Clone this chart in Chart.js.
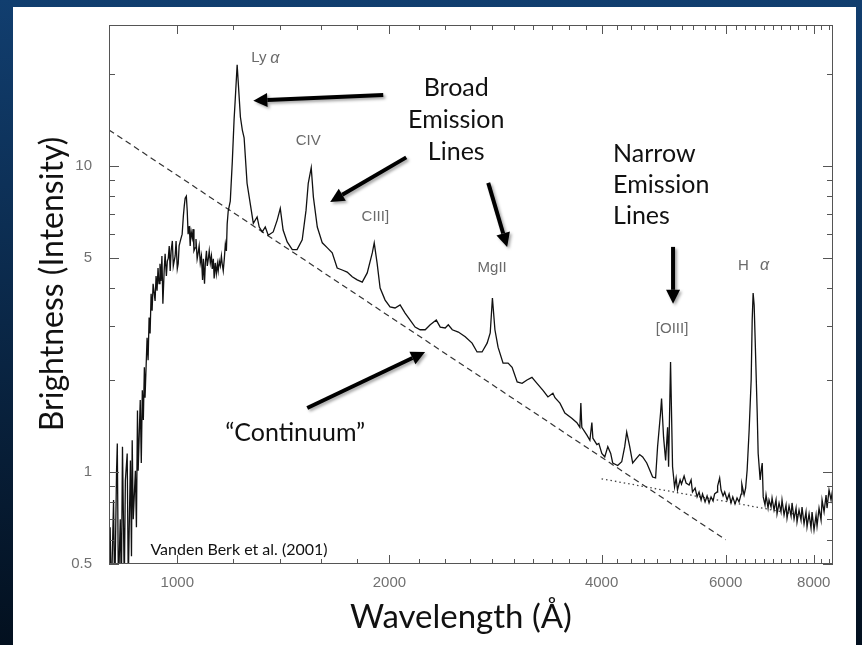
<!DOCTYPE html>
<html>
<head>
<meta charset="utf-8">
<script src="https://cdn.jsdelivr.net/npm/chart.js@4.4.1/dist/chart.umd.min.js"></script>
<style>
  html, body { margin: 0; padding: 0; background: #0b2a4d; }
  #wrap { width: 862px; height: 645px; }
</style>
</head>
<body>
<div id="wrap"><canvas id="spectrumChart" width="862" height="645"></canvas></div>
<script>

// composite quasar spectrum (Vanden Berk et al. 2001)
// wavelength in Angstrom, flux in arbitrary units
const forestWave = [798, 801, 803, 806, 812, 815, 820, 822, 825, 830, 833, 836, 841, 844, 849, 852, 858, 861, 863, 866,
    872, 875, 878, 880, 886, 889, 892, 895, 898, 900, 906, 909, 912, 915, 918, 921, 924, 930, 933, 936,
    939, 942, 945, 948, 951, 954, 958, 961, 965, 968, 971, 974, 977, 980, 984, 987, 993, 996, 1000, 1003,
    1006, 1010, 1016, 1020, 1023, 1026, 1030, 1033, 1036, 1040, 1043, 1046, 1050, 1053, 1056, 1060, 1063, 1067, 1070, 1074,
    1078, 1082, 1086, 1089, 1093, 1096, 1100, 1103, 1107, 1110, 1114, 1118, 1121, 1125, 1128, 1132, 1136, 1140, 1143, 1147,
    1151, 1155, 1158, 1162, 1166, 1170, 1174, 1177, 1181, 1189, 1197, 1204, 1208];
const forestFlux = [0.60, 0.38, 0.66, 0.38, 0.81, 0.38, 1.01, 1.24, 0.41, 0.70, 0.41, 1.21, 0.43, 0.94, 1.15, 0.44, 1.09, 0.53, 1.27, 0.70,
    1.01, 0.66, 1.59, 1.01, 1.72, 1.07, 1.85, 1.48, 2.20, 1.75, 2.75, 2.32, 3.20, 2.84, 3.83, 3.37, 4.13, 3.63, 4.38, 3.92,
    4.65, 4.13, 4.80, 4.22, 5.09, 3.55, 4.55, 5.17, 4.38, 4.90, 5.01, 5.49, 4.55, 5.29, 5.70, 4.72, 5.09, 5.70, 4.62, 4.80,
    5.49, 5.70, 6.00, 6.87, 7.41, 7.87, 7.99, 7.14, 6.00, 6.38, 5.49, 6.14, 5.83, 6.23, 5.29, 5.41, 5.78, 4.98, 5.17, 5.49,
    4.83, 5.09, 4.25, 4.98, 4.13, 4.83, 5.29, 4.72, 5.01, 5.29, 4.83, 5.09, 4.62, 4.98, 4.30, 4.83, 4.45, 4.80, 4.55, 4.90,
    4.72, 5.09, 4.80, 4.55, 4.98, 5.57, 5.29, 6.47, 7.14, 7.69, 10.4, 14.3, 16.3];

const uvWave = [1216, 1229, 1237, 1244, 1256, 1269, 1282, 1298, 1307, 1320, 1333, 1346, 1368, 1386, 1400, 1413, 1432, 1456, 1479, 1504,
    1523, 1534, 1549, 1560, 1580, 1606, 1633, 1659, 1686, 1714, 1742, 1771, 1800, 1830, 1860, 1891, 1903, 1921, 1940, 1972,
    2004, 2037, 2071, 2105, 2140, 2175, 2211, 2248, 2285, 2331, 2361, 2400, 2424, 2456, 2505, 2562, 2620, 2663, 2707, 2752,
    2780, 2800, 2823, 2852, 2899, 2947, 2986, 3036, 3085, 3135, 3186, 3239, 3303, 3357, 3412, 3435, 3491, 3548, 3629, 3690,
    3726, 3738, 3750, 3813, 3850, 3875, 3888, 3939, 3964];
const uvFlux = [21.5, 14.5, 13.1, 12.4, 8.8, 7.57, 6.51, 6.83, 6.33, 6.10, 6.33, 5.95, 6.10, 6.67, 7.29, 6.19, 5.66, 5.34, 5.34, 5.75,
    7.19, 8.8, 9.9, 7.93, 6.33, 5.62, 5.41, 5.21, 4.65, 4.58, 4.51, 4.35, 4.25, 4.18, 4.48, 5.21, 5.62, 4.82, 4.00, 3.65,
    3.47, 3.44, 3.52, 3.31, 3.14, 2.98, 2.92, 2.92, 3.03, 3.14, 2.98, 2.96, 3.03, 2.92, 2.87, 2.77, 2.64, 2.47, 2.47, 2.64,
    2.85, 3.71, 2.92, 2.56, 2.27, 2.27, 2.20, 1.97, 1.95, 2.00, 2.04, 1.95, 1.85, 1.76, 1.81, 1.75, 1.68, 1.56, 1.50, 1.45,
    1.40, 1.68, 1.40, 1.32, 1.27, 1.45, 1.29, 1.23, 1.24];

const opticalWave = [4003, 4042, 4082, 4121, 4148, 4216, 4272, 4314, 4342, 4385, 4428, 4486, 4530, 4575, 4636, 4681, 4726, 4772, 4803, 4850,
    4866, 4898, 4931, 4963, 4979, 5011, 5044, 5077, 5103, 5126, 5170, 5193, 5238, 5272, 5324, 5359, 5383, 5430, 5465, 5500,
    5537, 5563, 5609, 5646, 5683, 5720, 5758, 5787, 5834, 5844, 5883, 5910, 5949, 5981, 6028, 6067, 6106, 6141, 6186, 6227,
    6268, 6310, 6325, 6372, 6404, 6436, 6478, 6521, 6543, 6563, 6585, 6607, 6651, 6672, 6716, 6738, 6761, 6783, 6823, 6846,
    6891, 6913, 6959, 6982, 7027, 7073, 7096, 7143, 7189, 7213, 7261, 7308, 7332, 7380, 7429, 7453, 7502, 7551, 7575, 7625,
    7675, 7700, 7751, 7801, 7827, 7879, 7930, 7956, 8008, 8061, 8087, 8140, 8194, 8221, 8275, 8329, 8356, 8410, 8466, 8521];
const opticalFlux = [1.15, 1.12, 1.21, 1.15, 1.07, 1.05, 1.08, 1.21, 1.35, 1.21, 1.07, 1.11, 1.14, 1.12, 1.07, 1.015, 0.963, 0.956, 1.21, 1.56,
    1.74, 1.30, 1.09, 1.40, 1.04, 2.29, 1.04, 0.893, 0.956, 0.873, 0.942, 0.913, 0.970, 0.920, 0.907, 0.942, 0.860, 0.886, 0.829, 0.860,
    0.810, 0.847, 0.798, 0.835, 0.792, 0.829, 0.804, 0.848, 0.860, 0.900, 0.956, 0.873, 0.835, 0.860, 0.810, 0.847, 0.792, 0.829, 0.786, 0.822,
    0.798, 0.847, 0.913, 0.841, 0.886, 1.015, 1.37, 2.00, 3.14, 3.85, 3.52, 2.70, 1.56, 1.15, 0.942, 1.015, 1.07, 0.829, 0.780, 0.841,
    0.762, 0.810, 0.768, 0.822, 0.751, 0.810, 0.729, 0.792, 0.740, 0.810, 0.723, 0.780, 0.707, 0.774, 0.718, 0.792, 0.702, 0.762, 0.686, 0.751,
    0.696, 0.768, 0.676, 0.740, 0.661, 0.729, 0.656, 0.740, 0.646, 0.723, 0.666, 0.762, 0.696, 0.810, 0.740, 0.841, 0.762, 0.873, 0.810, 0.893];

// power-law continuum fits
const continuumWave = [800, 6000];
const continuumFlux = [13.15, 0.60];
const redFitWave = [4000, 7600];
const redFitFlux = [0.95, 0.725];

// axis ticks
const xLabels = [1000, 2000, 4000, 6000, 8000];
const yLabels = [0.5, 1, 5, 10];
const yMinorTicks = [0.6, 0.7, 0.8, 0.9, 2, 3, 4, 6, 7, 8, 9, 20];
const xMinorTicks = [];
for (let w = 800; w <= 8400; w += 200) {
    if (!xLabels.includes(w)) xMinorTicks.push(w);
}

// line identifications: [text, wavelength, flux]
const lineNames = [
    ['CIV', 1534, 12.1],
    ['CIII]', 1910, 6.83],
    ['MgII', 2798, 4.65],
    ['[OIII]', 5036, 2.94]
];

// arrows: [from wavelength, from flux, to wavelength, to flux]
const arrows = [
    [1960, 17.1, 1282, 16.4],
    [2113, 10.7, 1648, 7.65],
    [2762, 8.83, 2938, 5.45],
    [5052, 5.45, 5052, 3.55],
    [1529, 1.62, 2247, 2.47]
];

function toPoints(wave, flux) {
    return wave.map((w, i) => ({ x: w, y: flux[i] }));
}

function drawArrow(ctx, x1, y1, x2, y2) {
    const ang = Math.atan2(y2 - y1, x2 - x1);
    const head = 14, half = 7;
    const bx = x2 - head * Math.cos(ang);
    const by = y2 - head * Math.sin(ang);
    ctx.beginPath();
    ctx.moveTo(x1, y1);
    ctx.lineTo(bx, by);
    ctx.stroke();
    ctx.beginPath();
    ctx.moveTo(x2, y2);
    ctx.lineTo(bx + half * Math.sin(ang), by - half * Math.cos(ang));
    ctx.lineTo(bx - half * Math.sin(ang), by + half * Math.cos(ang));
    ctx.closePath();
    ctx.fill();
}

const decorPlugin = {
    id: 'decor',
    beforeDraw(chart) {
        const ctx = chart.ctx;
        const g = ctx.createLinearGradient(0, 0, 0, chart.height);
        g.addColorStop(0, '#113e6f');
        g.addColorStop(1, '#03101f');
        ctx.save();
        ctx.fillStyle = g;
        ctx.fillRect(0, 0, chart.width, chart.height);
        ctx.fillStyle = '#ffffff';
        ctx.fillRect(13, 7, 843, chart.height - 7);
        ctx.restore();
    },
    afterDatasetsDraw(chart) {
        const { ctx, chartArea: a, scales: { x, y } } = chart;
        ctx.save();
        ctx.strokeStyle = '#555';
        ctx.lineWidth = 1;
        ctx.strokeRect(a.left + 0.5, a.top + 0.5, a.right - a.left - 1, a.bottom - a.top - 1);
        ctx.beginPath();
        const xMarks = xLabels.map(v => [v, 9]).concat(xMinorTicks.map(v => [v, 5]));
        xMarks.forEach(([v, len]) => {
            const px = Math.round(x.getPixelForValue(v)) + 0.5;
            ctx.moveTo(px, a.bottom); ctx.lineTo(px, a.bottom - len);
            ctx.moveTo(px, a.top); ctx.lineTo(px, a.top + len);
        });
        const yMarks = yLabels.map(v => [v, 10]).concat(yMinorTicks.map(v => [v, 6]));
        yMarks.forEach(([v, len]) => {
            const py = Math.round(y.getPixelForValue(v)) + 0.5;
            ctx.moveTo(a.left, py); ctx.lineTo(a.left + len, py);
            ctx.moveTo(a.right, py); ctx.lineTo(a.right - len, py);
        });
        ctx.stroke();
        ctx.restore();
    },
    afterDraw(chart) {
        const { ctx, scales: { x, y } } = chart;
        const px = v => x.getPixelForValue(v);
        const py = v => y.getPixelForValue(v);
        ctx.save();

        // axis titles
        ctx.fillStyle = '#111';
        ctx.textAlign = 'center';
        ctx.textBaseline = 'middle';
        ctx.font = '33px Lato';
        ctx.fillText('Wavelength (Å)', 461, 617);
        ctx.save();
        ctx.translate(53, 284);
        ctx.rotate(-Math.PI / 2);
        ctx.font = '32px Lato';
        ctx.fillText('Brightness (Intensity)', 0, 0);
        ctx.restore();

        // line identifications
        ctx.fillStyle = '#6a6a6a';
        ctx.font = '15px "Liberation Sans"';
        lineNames.forEach(([t, w, f]) => ctx.fillText(t, px(w), py(f)));
        ctx.textAlign = 'left';
        ctx.fillText('Ly', px(1273), py(22.6));
        ctx.fillText('H', px(6248), py(4.72));
        ctx.font = 'italic 16px "Liberation Sans"';
        ctx.fillText('α', px(1273) + 19, py(22.6));
        ctx.fillText('α', px(6248) + 22, py(4.72));

        // explanatory text
        ctx.fillStyle = '#111';
        ctx.font = '25px Lato';
        ctx.textAlign = 'center';
        ['Broad', 'Emission', 'Lines'].forEach((t, i) => ctx.fillText(t, px(2488), py(18.05) + i * 32));
        ctx.textAlign = 'left';
        ['Narrow', 'Emission', 'Lines'].forEach((t, i) => ctx.fillText(t, px(4153), py(10.98) + i * 31));
        ctx.textAlign = 'center';
        ctx.fillText('\u201CContinuum\u201D', px(1470), py(1.34));
        ctx.textAlign = 'left';
        ctx.font = '16px Lato';
        ctx.fillText('Vanden Berk et al. (2001)', px(916), py(0.556));

        // arrows
        ctx.strokeStyle = '#000';
        ctx.fillStyle = '#000';
        ctx.lineWidth = 4;
        ctx.shadowColor = 'rgba(0,0,0,0.35)';
        ctx.shadowBlur = 3;
        ctx.shadowOffsetX = 2;
        ctx.shadowOffsetY = 2;
        arrows.forEach(([w1, f1, w2, f2]) => drawArrow(ctx, px(w1), py(f1), px(w2), py(f2)));
        ctx.restore();
    }
};

const spectrum = toPoints(forestWave, forestFlux)
    .concat(toPoints(uvWave, uvFlux))
    .concat(toPoints(opticalWave, opticalFlux));

const ctx = document.getElementById('spectrumChart').getContext('2d');
const spectrumChart = new Chart(ctx, {
    type: 'line',
    data: {
        datasets: [{
            data: spectrum,
            borderColor: '#111',
            borderWidth: 1.3,
            pointRadius: 0,
            tension: 0
        }, {
            data: toPoints(continuumWave, continuumFlux),
            borderColor: '#333',
            borderWidth: 1.2,
            borderDash: [6, 4],
            pointRadius: 0
        }, {
            data: toPoints(redFitWave, redFitFlux),
            borderColor: '#444',
            borderWidth: 1.3,
            borderDash: [1.5, 3],
            pointRadius: 0
        }]
    },
    options: {
        responsive: false,
        animation: false,
        devicePixelRatio: 1,
        layout: { padding: { top: 25, right: 29, left: 0, bottom: 0 } },
        plugins: {
            legend: { display: false },
            tooltip: { enabled: false }
        },
        scales: {
            x: {
                type: 'logarithmic',
                min: 800,
                max: 8520,
                grid: { display: false },
                border: { display: false },
                afterBuildTicks: axis => { axis.ticks = xLabels.map(v => ({ value: v })); },
                afterFit: axis => { axis.height = 81; },
                ticks: {
                    autoSkip: false,
                    maxRotation: 0,
                    padding: 2,
                    color: '#707070',
                    font: { family: 'Liberation Sans', size: 15 },
                    callback: v => String(v)
                }
            },
            y: {
                type: 'logarithmic',
                min: 0.5,
                max: 29,
                grid: { display: false },
                border: { display: false },
                afterBuildTicks: axis => { axis.ticks = yLabels.map(v => ({ value: v })); },
                afterFit: axis => { axis.width = 109; },
                ticks: {
                    autoSkip: false,
                    padding: 9,
                    color: '#707070',
                    font: { family: 'Liberation Sans', size: 15 },
                    callback: v => String(v)
                }
            }
        }
    },
    plugins: [decorPlugin]
});
</script>
</body>
</html>
